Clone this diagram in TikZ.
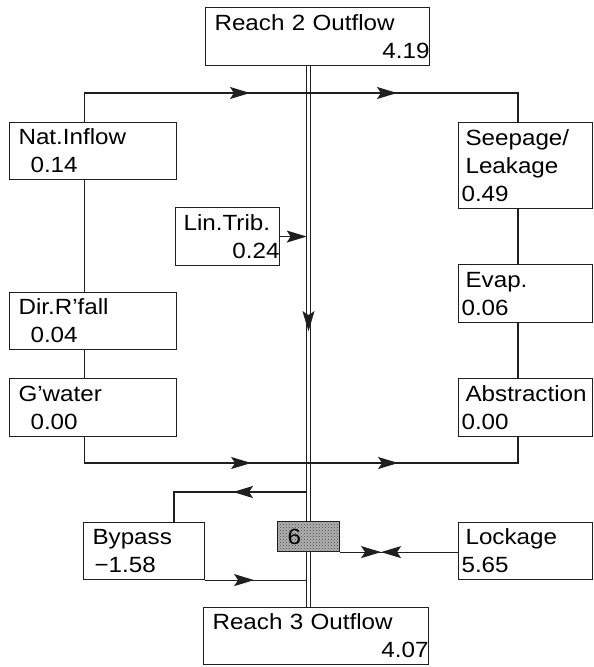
\documentclass[tikz,border=0pt]{standalone}
\usepackage{fontspec}
\setmainfont{Liberation Sans}[FakeStretch=1.1]
\usetikzlibrary{arrows.meta,decorations.markings,patterns,calc}
\colorlet{ink}{black!88}
\begin{document}
\begin{tikzpicture}[x=1pt,y=-1pt,
  ftip/.tip={Stealth[length=20pt,width=12pt,inset=4pt]},
  box/.style={draw=ink, line width=1.1pt, rectangle, anchor=north west, inner sep=0pt,
    align=left, font=\fontsize{22}{28}\selectfont},
  flow/.style={draw=ink, color=ink, line width=1.1pt},
  mainline/.style={draw=ink, double=white, double distance=2.6pt, line width=0.9pt},
  onearrow/.style={postaction={decorate}, decoration={markings,
    mark=at position #1 with {\arrow{ftip}}}},
  twoarrows/.style 2 args={postaction={decorate}, decoration={markings,
    mark=at position #1 with {\arrow{ftip}},
    mark=at position #2 with {\arrow{ftip}}}},
  bowtie/.style={postaction={decorate}, decoration={markings,
    mark=at position #1 with {\arrow{ftip}\arrowreversed{ftip}}}},
]
\useasboundingbox[fill=white] (0,0) rectangle (594,667);

% helper coordinates
\coordinate (m) at (308.5,0);
\coordinate (TL) at (84.5,93);
\coordinate (TR) at (518,93);
\coordinate (BL) at (84.5,463);
\coordinate (BR) at (518,463);
\coordinate (BO) at (174,492);

% boxes
\node[box, text width=224pt, minimum height=58pt] (r2) at (205,7)
  {\hspace*{9pt}Reach 2 Outflow\\\hspace*{\fill}4.19\hspace*{9pt}};
\node[box, text width=167pt, minimum height=57pt] (nat) at (9,122)
  {\hspace*{9pt}Nat.Inflow\\\hspace*{21pt}0.14};
\node[box, text width=167pt, minimum height=57pt] (dir) at (9,292)
  {\hspace*{9pt}Dir.R'fall\\\hspace*{21pt}0.04};
\node[box, text width=167pt, minimum height=58pt] (gw) at (9,378)
  {\hspace*{9pt}G'water\\\hspace*{21pt}0.00};
\node[box, text width=104pt, minimum height=58pt] (lin) at (175,207)
  {\hspace*{8pt}Lin.Trib.\\\hspace*{\fill}0.24\hspace*{9pt}};
\node[box, text width=134pt, minimum height=86pt] (seep) at (458,122)
  {\hspace*{7pt}Seepage/\\\hspace*{7pt}Leakage\\\hspace*{3pt}0.49};
\node[box, text width=134pt, minimum height=58pt] (evap) at (458,264)
  {\hspace*{7pt}Evap.\\\hspace*{3pt}0.06};
\node[box, text width=134pt, minimum height=58pt] (abs) at (458,378)
  {\hspace*{7pt}Abstraction\\\hspace*{3pt}0.00};
\node[box, text width=121pt, minimum height=57pt] (byp) at (83,522)
  {\hspace*{9pt}Bypass\\\hspace*{11pt}−1.58};
\node[box, text width=134pt, minimum height=57pt] (lock) at (458,522)
  {\hspace*{7pt}Lockage\\\hspace*{3pt}5.65};
\node[box, text width=225pt, minimum height=57pt] (r3) at (203,607)
  {\hspace*{9pt}Reach 3 Outflow\\\hspace*{\fill}4.07\hspace*{9pt}};

% main channel
\draw[mainline] (r2.south -| m) -- (r3.north -| m);
\path[color=ink, onearrow=265pt] (r2.south -| m) -- (r3.north -| m);

% lock node drawn over the main channel
\node[box, text width=62pt, minimum height=30pt,
  preaction={fill=gray!60}, pattern=crosshatch dots, pattern color=black!75] (six) at (277,521)
  {\hspace*{10pt}6};

% left and right columns, top and bottom links
\draw[flow, twoarrows={194.5pt}{341.5pt}] (nat.north -| TL) -- (TL) -- (TR) -- (seep.north -| TR);
\draw[flow] (nat.south -| TL) -- (dir.north -| TL);
\draw[flow] (dir.south -| TL) -- (gw.north -| TL);
\draw[flow, twoarrows={192.5pt}{339.5pt}] (gw.south -| BL) -- (BL) -- (BR) -- (abs.south -| BR);
\draw[flow] (seep.south -| TR) -- (evap.north -| TR);
\draw[flow] (evap.south -| TR) -- (abs.north -| TR);

% lateral tributary
\draw[flow, -{ftip}] (lin.east) -- ([xshift=-1.8pt]lin.east -| m);

% bypass
\draw[flow, onearrow=73.5pt] ([xshift=-2pt]BO -| m) -- (BO) -- (byp.north -| BO);
\draw[flow, onearrow=49pt] (byp.south east) -- ([xshift=-2pt]byp.south east -| m);

% lockage
\draw[flow, bowtie=41pt] (six.south east) -- (lock.west |- six.south east);
\end{tikzpicture}
\end{document}
